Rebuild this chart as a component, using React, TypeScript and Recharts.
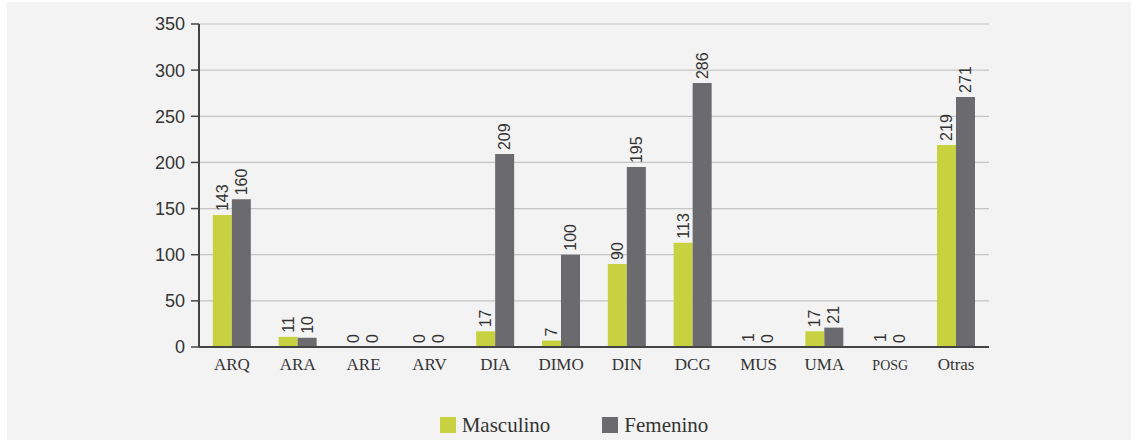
import React from 'react';
import { BarChart, Bar, XAxis, YAxis, CartesianGrid, Legend, LabelList } from 'recharts';

const categories = ['ARQ', 'ARA', 'ARE', 'ARV', 'DIA', 'DIMO', 'DIN', 'DCG', 'MUS', 'UMA', 'POSG', 'Otras'];
const masculino = [143, 11, 0, 0, 17, 7, 90, 113, 1, 17, 1, 219];
const femenino = [160, 10, 0, 0, 209, 100, 195, 286, 0, 21, 0, 271];
const yTicks = [0, 50, 100, 150, 200, 250, 300, 350];
const edgeTicks = [0, 1, 2, 3, 4, 5, 6, 7, 8, 9, 10, 11, 12];

const data = categories.map((c, i) => ({ cat: c, Masculino: masculino[i], Femenino: femenino[i] }));

const GREEN = '#c8d13f';
const GRAY = '#6b6b6f';
const SANS = '"Liberation Sans", Arial, sans-serif';
const SERIF = '"Liberation Serif", "Times New Roman", serif';

const renderLabel = (props: any) => {
  const { x, y, width, height, value } = props;
  const cx = Number(x) + Number(width) / 2;
  const top = Math.min(Number(y), Number(y) + Number(height || 0));
  const ty = top - 4;
  return (
    <text
      x={cx}
      y={ty}
      transform={`rotate(-90 ${cx} ${ty})`}
      textAnchor="start"
      dominantBaseline="central"
      fontSize={16}
      fontFamily={SANS}
      fill="#333"
    >
      {String(value)}
    </text>
  );
};

const zeroMin = (value: any) => (Number(value) === 0 ? 0.01 : 0);

const XTick = (props: any) => {
  const { x, y, payload } = props;
  const small = payload.value === 'POSG';
  return (
    <text x={x} y={y + 15} textAnchor="middle" fontFamily={SERIF} fontSize={small ? 14 : 17} fill="#333">
      {payload.value}
    </text>
  );
};

const renderLegend = () => (
  <div style={{ display: 'flex', justifyContent: 'center', alignItems: 'center', height: 45, paddingLeft: 10, boxSizing: 'border-box', paddingTop: 30 }}>
    {[
      { name: 'Masculino', color: GREEN },
      { name: 'Femenino', color: GRAY },
    ].map((it, i) => (
      <div key={it.name} style={{ display: 'flex', alignItems: 'center', marginLeft: i === 0 ? 0 : 52 }}>
        <div style={{ width: 16, height: 16, background: it.color, marginRight: 6 }} />
        <span style={{ fontFamily: SERIF, fontSize: 21, color: '#333', lineHeight: '16px' }}>{it.name}</span>
      </div>
    ))}
  </div>
);

export default function App() {
  return (
    <div style={{ position: 'absolute', left: 7, top: 2, width: 1124, height: 438, background: '#f3f3f3' }}>
      <BarChart
        width={1124}
        height={438}
        data={data}
        margin={{ top: 22, right: 142, bottom: 8, left: 132 }}
        barCategoryGap="21%"
        barGap={0}
      >
        <CartesianGrid vertical={false} stroke="#c4c4c4" strokeWidth={1.2} />
        <XAxis
          xAxisId="edges"
          type="number"
          domain={[0, 12]}
          ticks={edgeTicks}
          allowDataOverflow
          height={0}
          axisLine={false}
          tickSize={8}
          tickLine={{ stroke: '#444', strokeWidth: 1.5 }}
          tickFormatter={() => ''}
        />
        <XAxis
          dataKey="cat"
          height={40}
          axisLine={{ stroke: '#444', strokeWidth: 2 }}
          tickLine={false}
          tick={<XTick />}
          interval={0}
        />
        <YAxis
          width={60}
          domain={[0, 350]}
          ticks={yTicks}
          axisLine={{ stroke: '#444', strokeWidth: 2 }}
          tickLine={{ stroke: '#444', strokeWidth: 1.5 }}
          tickSize={8}
          tickMargin={6}
          tick={{ fontSize: 18, fontFamily: SANS, fill: '#333' }}
        />
        <Legend verticalAlign="bottom" height={45} content={renderLegend} wrapperStyle={{ left: 0, width: 1124 }} />
        <Bar dataKey="Masculino" fill={GREEN} isAnimationActive={false} minPointSize={zeroMin}>
          <LabelList dataKey="Masculino" content={renderLabel} />
        </Bar>
        <Bar dataKey="Femenino" fill={GRAY} isAnimationActive={false} minPointSize={zeroMin}>
          <LabelList dataKey="Femenino" content={renderLabel} />
        </Bar>
      </BarChart>
    </div>
  );
}
